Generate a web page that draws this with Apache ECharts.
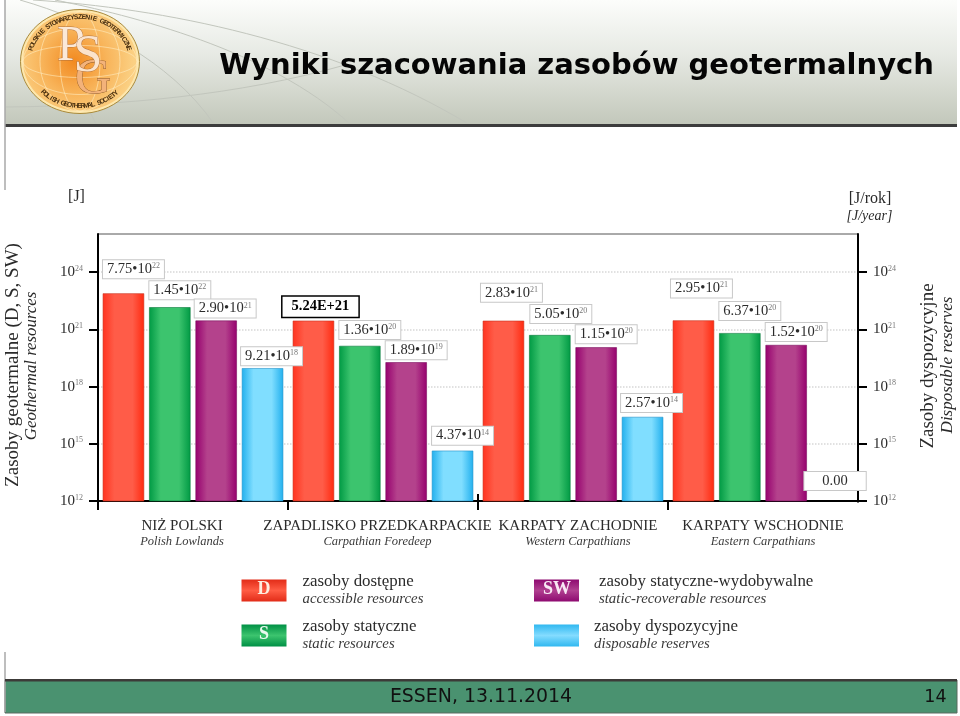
<!DOCTYPE html>
<html>
<head>
<meta charset="utf-8">
<title>Wyniki szacowania zasobów geotermalnych</title>
<script src="https://cdn.jsdelivr.net/npm/echarts@6/dist/echarts.min.js"></script>
<style>
  html, body { margin: 0; padding: 0; background: #fff; }
  #chart { width: 960px; height: 716px; }
</style>
</head>
<body>
<div id="chart"></div>
<script>
// Chart data
const categories = ['NIŻ POLSKI', 'ZAPADLISKO PRZEDKARPACKIE', 'KARPATY ZACHODNIE', 'KARPATY WSCHODNIE']
const categoriesEn = ['Polish Lowlands', 'Carpathian Foredeep', 'Western Carpathians', 'Eastern Carpathians']
const accessible = [7.75e22, 2.85e21, 2.83e21, 2.95e21]
const staticRes = [1.45e22, 1.36e20, 5.05e20, 6.37e20]
const staticRecoverable = [2.9e21, 1.89e19, 1.15e20, 1.52e20]
// last one is 0.00 in the source, no bar: sits on the axis minimum
const disposable = [9.21e18, 4.37e14, 2.57e16, 1e12]
const yTicks = [1e12, 1e15, 1e18, 1e21, 1e24]

// Printed labels (these do not always agree with the bar height in the source)
const accessibleLabels = ['7.75•10{sup|22}', '5.24E+21', '2.83•10{sup|21}', '2.95•10{sup|21}']
const staticLabels = ['1.45•10{sup|22}', '1.36•10{sup|20}', '5.05•10{sup|20}', '6.37•10{sup|20}']
const recoverableLabels = ['2.90•10{sup|21}', '1.89•10{sup|19}', '1.15•10{sup|20}', '1.52•10{sup|20}']
const disposableLabels = ['9.21•10{sup|18}', '4.37•10{sup|14}', '2.57•10{sup|14}', '0.00']

// Label box offsets from the top centre of each bar
const accessibleOffsets = [[10, -15], [7, -4], [8, -19], [8, -23]]
const staticOffsets = [[10, -8], [10, -7], [11, -12], [10, -13]]
const recoverableOffsets = [[9, -3], [10, -3], [10, -4], [10, -4]]
const disposableOffsets = [[9, -3], [10, -6], [9, -5], [2.5, -11]]

// Horizontal shift of the category captions from the band centre
const captionShift = [-11, -5.5, 5, 0]

const legendEn = {
  'zasoby dostępne': 'accessible resources',
  'zasoby statyczne': 'static resources',
  'zasoby statyczne-wydobywalne': 'static-recoverable resources',
  'zasoby dyspozycyjne': 'disposable reserves'
}

const SERIF = '"Liberation Serif", serif'
const SANS = '"DejaVu Sans", sans-serif'
const TEXT = '#2b2b2b'

function hGrad(edgeL, mid, edgeR) {
  return new echarts.graphic.LinearGradient(0, 0, 1, 0, [
    { offset: 0, color: edgeL },
    { offset: 0.28, color: mid },
    { offset: 0.72, color: mid },
    { offset: 1, color: edgeR }
  ])
}

function vGrad(edge, mid) {
  return new echarts.graphic.LinearGradient(0, 0, 0, 1, [
    { offset: 0, color: edge },
    { offset: 0.5, color: mid },
    { offset: 1, color: edge }
  ])
}

const supStyle = { fontSize: 8, color: '#777', fontFamily: SERIF, verticalAlign: 'top', lineHeight: 14, padding: [0, 0, 3, 0] }

function barSeries(name, values, labels, offsets, fill, border) {
  return {
    name,
    type: 'bar',
    barGap: '12%',
    barCategoryGap: '5%',
    barMinHeight: 1,
    itemStyle: { color: fill, borderColor: border, borderWidth: 0.6 },
    data: values.map((value, i) => {
      const bold = labels[i].indexOf('E+') > 0
      const empty = labels[i] === '0.00'
      return {
        value,
        // the 0.00 entry has no visible bar, only its label box
        itemStyle: empty ? { color: 'transparent', borderWidth: 0 } : undefined,
        label: {
          show: true,
          position: 'top',
          distance: 0,
          offset: offsets[i],
          formatter: labels[i],
          fontFamily: SERIF,
          fontSize: 14.5,
          lineHeight: 14,
          fontWeight: bold ? 'bold' : 'normal',
          color: bold ? '#000' : TEXT,
          backgroundColor: '#fff',
          borderColor: bold ? '#000' : '#c8c8c8',
          borderWidth: bold ? 1.5 : 1,
          padding: bold ? [3, 9] : empty ? [2, 18] : [2, 4],
          rich: { sup: supStyle }
        }
      }
    })
  }
}

// Logo lettering runs round an ellipse, one text element per character
function arcText(str, t0, t1, bottom) {
  const a = 51, b = 44.5
  return str.split('').map((ch, i) => {
    const t = (t0 + (t1 - t0) * i / (str.length - 1)) * Math.PI / 180
    return {
      type: 'text',
      x: 80 + a * Math.cos(t),
      y: 61.5 + b * Math.sin(t),
      rotation: bottom ? Math.PI / 2 - t : -Math.PI / 2 - t,
      z: 103,
      style: { text: ch, fontFamily: '"Liberation Sans", sans-serif', fontWeight: 'bold', fontSize: 6.8, fill: '#4a3010', align: 'center', verticalAlign: 'middle' }
    }
  })
}

function curve(x1, y1, cx1, cy1, cx2, cy2, x2, y2) {
  return {
    type: 'bezierCurve',
    z: 101,
    shape: { x1, y1, cpx1: cx1, cpy1: cy1, cpx2: cx2, cpy2: cy2, x2, y2 },
    style: { stroke: '#c2c6bd', lineWidth: 1, fill: null }
  }
}

function ellipse(cx, cy, rx, ry, style, z) {
  return { type: 'ellipse', z: z || 102, shape: { cx, cy, rx, ry }, style }
}

function label(text, x, y, size, opts) {
  const o = opts || {}
  return {
    type: 'text',
    x,
    y,
    rotation: o.rotation || 0,
    z: 110,
    style: {
      text,
      fontFamily: o.family || SERIF,
      fontSize: size,
      fontStyle: o.italic ? 'italic' : 'normal',
      fontWeight: o.bold ? 'bold' : 'normal',
      fill: o.fill || TEXT,
      align: o.align || 'center',
      verticalAlign: 'middle'
    }
  }
}

const gridLineStyle = { color: '#d8d8d8', type: 'dotted', width: 1.5 }

function yAxis(position) {
  return {
    type: 'log',
    logBase: 10,
    position,
    min: 1e12,
    max: 1e26,
    axisLine: { show: true, lineStyle: { color: '#000', width: 2 } },
    axisTick: { show: true, length: 9, customValues: yTicks, lineStyle: { color: '#000', width: 2 } },
    axisLabel: {
      margin: 15,
      customValues: yTicks,
      formatter: value => `10{sup|${Math.round(Math.log10(value))}}`,
      fontFamily: SERIF,
      fontSize: 15,
      color: TEXT,
      rich: { sup: { fontSize: 8, color: '#777', fontFamily: SERIF, verticalAlign: 'top', lineHeight: 15, padding: [0, 0, 4, 0] } }
    },
    splitLine: { show: position === 'left', lineStyle: gridLineStyle }
  }
}

const captionRich = {}
captionShift.forEach((shift, i) => {
  const pad = shift < 0 ? [0, -2 * shift, 0, 0] : [0, 0, 0, 2 * shift]
  captionRich['pl' + i] = { fontFamily: SERIF, fontSize: 15, lineHeight: 16, color: TEXT, padding: pad }
  captionRich['en' + i] = { fontFamily: SERIF, fontSize: 12.5, fontStyle: 'italic', lineHeight: 16, color: '#3a3a3a', padding: pad }
})

function legendItem(name, left, top, color, textGap) {
  return {
    left,
    top,
    padding: 0,
    selectedMode: false,
    itemWidth: 45,
    itemHeight: 22,
    data: [{ name, icon: 'rect', itemStyle: { color, borderWidth: 0 } }],
    formatter: n => `{pl|${n}}\n{en|${legendEn[n]}}`,
    textStyle: {
      rich: {
        pl: { fontFamily: SERIF, fontSize: 16.9, lineHeight: 17, color: TEXT, padding: [0, 0, 0, textGap] },
        en: { fontFamily: SERIF, fontSize: 14.8, fontStyle: 'italic', lineHeight: 17, color: '#3a3a3a', padding: [0, 0, 0, textGap] }
      }
    }
  }
}

const headerFill = new echarts.graphic.LinearGradient(0, 0, 0, 1, [
  { offset: 0, color: '#fcfdfb' },
  { offset: 0.45, color: '#e6e9e3' },
  { offset: 1, color: '#c3c8bb' }
])

const logoFill = new echarts.graphic.RadialGradient(0.45, 0.5, 0.6, [
  { offset: 0, color: '#f28a20' },
  { offset: 0.55, color: '#f8b45a' },
  { offset: 1, color: '#fbd083' }
])

const graphics = [
  // header band
  { type: 'rect', z: 100, shape: { x: 5, y: 0, width: 952, height: 124 }, style: { fill: headerFill } },
  curve(33, 0, 160, 8, 330, 40, 470, 125),
  curve(20, 0, 90, 20, 170, 60, 214, 124),
  curve(55, 0, 130, 15, 270, 50, 350, 124),
  curve(6, 107, 120, 106, 240, 95, 345, 65),
  curve(90, 112, 92, 116, 94, 120, 96, 124),
  { type: 'rect', z: 101, shape: { x: 5, y: 124, width: 952, height: 3 }, style: { fill: '#3c3c3c' } },
  // left edge of the slide
  { type: 'line', z: 101, shape: { x1: 5, y1: 0, x2: 5, y2: 190 }, style: { stroke: '#a8a8a8', lineWidth: 1.5 } },
  { type: 'line', z: 101, shape: { x1: 5, y1: 652, x2: 5, y2: 712 }, style: { stroke: '#a8a8a8', lineWidth: 1.5 } },
  // logo
  ellipse(80, 61.5, 59.5, 52, { fill: '#fde7ad', stroke: '#a98a3c', lineWidth: 1 }),
  ellipse(80, 61.5, 57, 49.5, { fill: logoFill }),
  ellipse(80, 61.5, 20, 49.5, { fill: null, stroke: 'rgba(255,240,200,0.55)', lineWidth: 1 }),
  ellipse(80, 61.5, 40, 49.5, { fill: null, stroke: 'rgba(255,240,200,0.55)', lineWidth: 1 }),
  ellipse(80, 61.5, 57, 16, { fill: null, stroke: 'rgba(255,240,200,0.55)', lineWidth: 1 }),
  ellipse(80, 61.5, 57, 33, { fill: null, stroke: 'rgba(255,240,200,0.55)', lineWidth: 1 }),
  ...arcText('POLSKIE STOWARZYSZENIE GEOTERMICZNE', -163, -17, false),
  ...arcText('POLISH GEOTHERMAL SOCIETY', 136, 45, true),
  {
    type: 'text', x: 71, y: 47, z: 104,
    style: { text: 'P', fontFamily: SERIF, fontSize: 50, fill: '#fbe9d8', stroke: '#b0703a', lineWidth: 0.8, align: 'center', verticalAlign: 'middle' }
  },
  {
    type: 'text', x: 88, y: 57, z: 105,
    style: { text: 'S', fontFamily: SERIF, fontSize: 52, fill: '#fbe3cc', stroke: '#b0703a', lineWidth: 0.8, align: 'center', verticalAlign: 'middle' }
  },
  {
    type: 'text', x: 93, y: 80, z: 104,
    style: { text: 'G', fontFamily: SERIF, fontSize: 50, fill: '#f3b27a', stroke: '#8e5a2a', lineWidth: 0.8, align: 'center', verticalAlign: 'middle' }
  },
  // title
  label('Wyniki szacowania zasobów geotermalnych', 576.5, 66, 29, { family: SANS, bold: true, fill: '#050505' }),
  // units
  label('[J]', 76.5, 197, 16),
  label('[J/rok]', 870, 199, 16),
  label('[J/year]', 869.5, 216, 14, { italic: true }),
  // axis titles
  label('Zasoby geotermalne (D, S, SW)', 13, 365, 19, { rotation: Math.PI / 2 }),
  label('Geothermal resources', 32, 366, 16.8, { rotation: Math.PI / 2, italic: true }),
  label('Zasoby dyspozycyjne', 928, 366, 19, { rotation: Math.PI / 2 }),
  label('Disposable reserves', 948, 365, 17, { rotation: Math.PI / 2, italic: true }),
  // letters on the legend swatches
  label('D', 264, 589, 18, { bold: true, fill: '#fdeee0' }),
  label('S', 264, 634, 18, { bold: true, fill: '#e8f8ee' }),
  label('SW', 557, 589, 18, { bold: true, fill: '#f8e8f4' }),
  // the base line stops at the right axis, no tick under it
  { type: 'rect', z: 100, shape: { x: 855, y: 502.5, width: 6, height: 10 }, style: { fill: '#fff' } },
  // footer band
  { type: 'rect', z: 100, shape: { x: 5, y: 680, width: 952, height: 33 }, style: { fill: '#4a9270', stroke: '#5a6a60', lineWidth: 1 } },
  { type: 'rect', z: 101, shape: { x: 5, y: 679, width: 952, height: 2.5 }, style: { fill: '#3c3a38' } },
  label('ESSEN, 13.11.2014', 481, 697, 18.9, { family: SANS, fill: '#111' }),
  label('14', 935.5, 697, 17.5, { family: SANS, fill: '#111' })
]

const chart = echarts.init(document.getElementById('chart'), null, { renderer: 'canvas' })

chart.setOption({
  backgroundColor: '#fff',
  animation: false,
  grid: { left: 98, right: 102, top: 234, bottom: 215, show: true, borderColor: '#555', borderWidth: 1 },
  xAxis: [
    {
      type: 'category',
      data: categories,
      axisLine: { onZero: false, lineStyle: { color: '#000', width: 2 } },
      axisTick: { show: true, length: 9, lineStyle: { color: '#000', width: 2 } },
      axisLabel: {
        interval: 0,
        margin: 17,
        formatter: (value, i) => `{pl${i}|${value}}\n{en${i}|${categoriesEn[i]}}`,
        rich: captionRich
      }
    },
    {
      // same band, only carries the part of the ticks above the base line
      type: 'category',
      data: categories,
      position: 'bottom',
      axisLine: { show: false, onZero: false },
      axisTick: { show: true, inside: true, length: 7, lineStyle: { color: '#000', width: 2 } },
      axisLabel: { show: false }
    }
  ],
  yAxis: [yAxis('left'), yAxis('right')],
  legend: [
    legendItem('zasoby dostępne', 241.5, 573.5, vGrad('#e22c18', '#ff5c44'), 11),
    legendItem('zasoby statyczne', 241.5, 618.5, vGrad('#009045', '#3cc46e'), 11),
    legendItem('zasoby statyczne-wydobywalne', 534, 573.5, vGrad('#8e0a70', '#b04090'), 15),
    legendItem('zasoby dyspozycyjne', 534, 618.5, vGrad('#30b8f0', '#84dcff'), 10)
  ],
  series: [
    barSeries('zasoby dostępne', accessible, accessibleLabels, accessibleOffsets, hGrad('#ff3420', '#ff5c48', '#ff2a10'), '#c8301c'),
    barSeries('zasoby statyczne', staticRes, staticLabels, staticOffsets, hGrad('#009a44', '#3cc46e', '#009a44'), '#0a7a3c'),
    barSeries('zasoby statyczne-wydobywalne', staticRecoverable, recoverableLabels, recoverableOffsets, hGrad('#96006e', '#b4428c', '#96006e'), '#7c1060'),
    barSeries('zasoby dyspozycyjne', disposable, disposableLabels, disposableOffsets, hGrad('#22b0ee', '#80deff', '#22b0ee'), '#2090c8')
  ],
  graphic: graphics
})
</script>
</body>
</html>
